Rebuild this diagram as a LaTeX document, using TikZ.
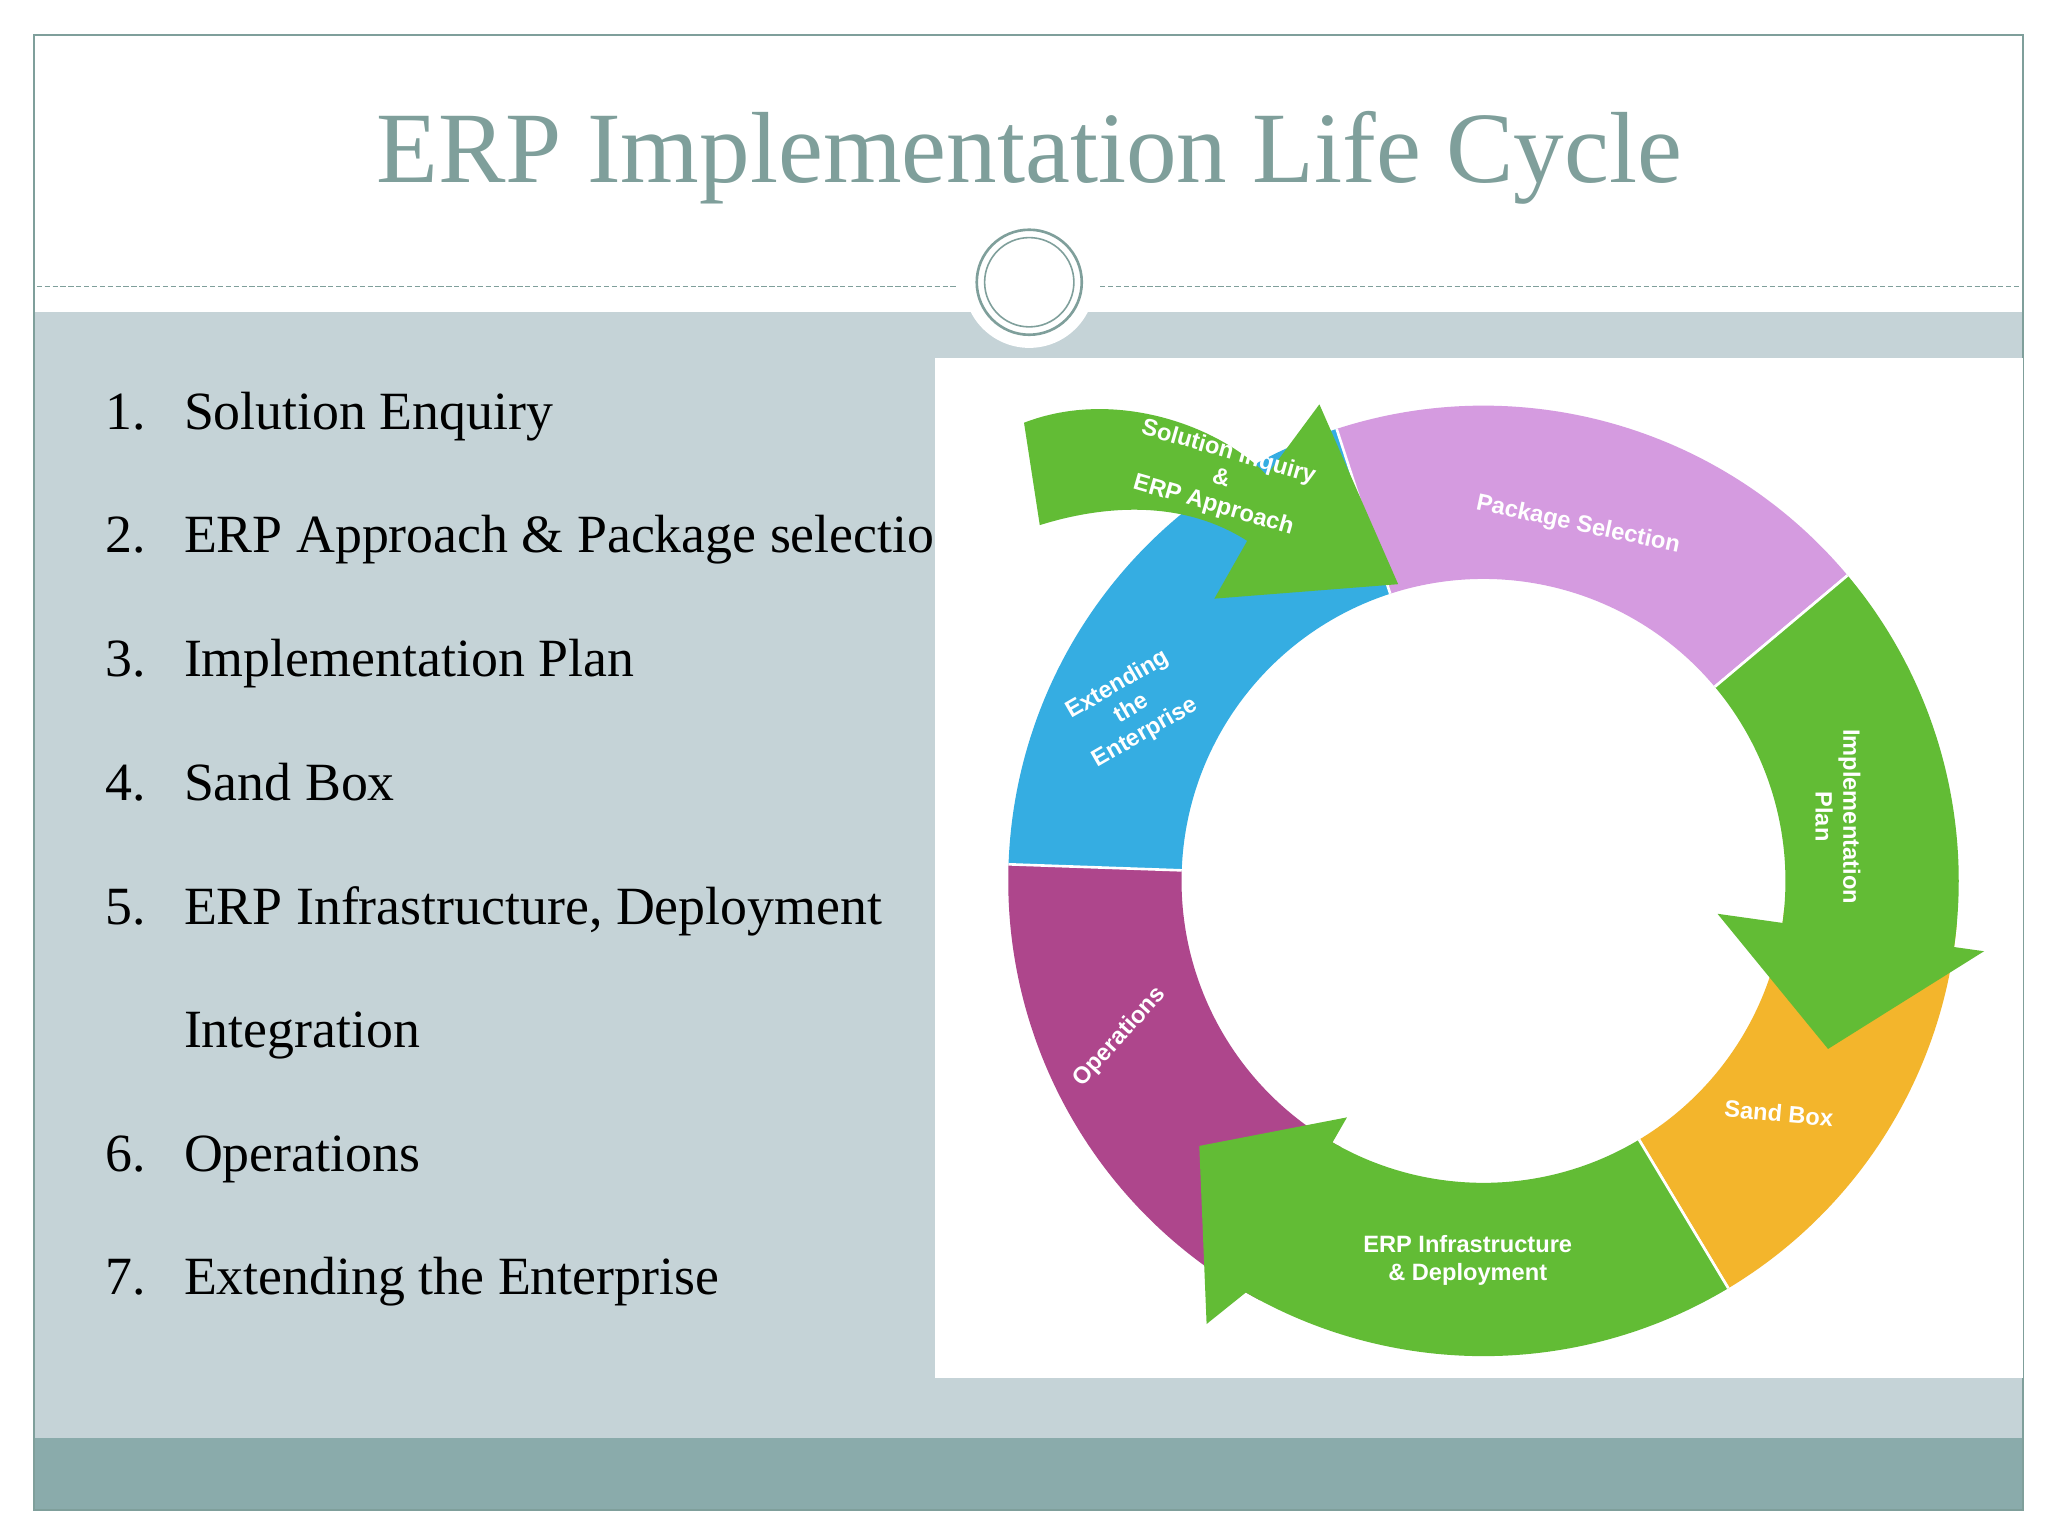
\documentclass[tikz,border=0pt]{standalone}
\usepackage{fontspec}
\setmainfont{Liberation Serif}
\newfontfamily\lblfont{Liberation Sans}
\begin{document}
\begin{tikzpicture}[x=1pt,y=1pt]
\definecolor{teal1}{HTML}{7F9F9B}
\definecolor{bgblue}{HTML}{C5D3D7}
\definecolor{barc}{HTML}{8AABAB}
\definecolor{cpur}{HTML}{D59BE0}
\definecolor{cgrn}{HTML}{62BC35}
\definecolor{cora}{HTML}{F3B52C}
\definecolor{cmag}{HTML}{AE468C}
\definecolor{cblu}{HTML}{35ADE2}
\tikzset{item/.style={anchor=base west,font=\fontsize{41}{46}\selectfont,text=black,inner sep=0pt},
 lbl/.style={text=white,font=\lblfont\bfseries\fontsize{18}{21}\selectfont,align=center,inner sep=0pt}}
\useasboundingbox (0,0) rectangle (1560,1170);
\fill[white] (0,0) rectangle (1560,1170);
\fill[bgblue] (26,75) rectangle (1541,932);
\fill[barc] (26,20) rectangle (1541,75);
\draw[teal1,line width=1.5pt] (26,20) rectangle (1541,1143);
\node[text=teal1,font=\fontsize{77}{80}\selectfont] (title) at (784,1050) {ERP Implementation Life Cycle};
\draw[teal1,dash pattern=on 4pt off 2pt] (28,952) -- (728,952);
\draw[teal1,dash pattern=on 4pt off 2pt] (838,952) -- (1539,952);
\fill[white] (784,955) circle (50);
\draw[teal1,line width=2pt] (784,955) circle (40);
\draw[teal1,line width=1.2pt] (784,955) circle (34);
% list
\foreach \n/\t/\y in {1/Solution Enquiry/857, 2/ERP Approach \& Package selection/763, 3/Implementation Plan/669, 4/Sand Box/574, 5/{ERP Infrastructure, Deployment}/480, 6/Operations/292, 7/Extending the Enterprise/198}{
  \node[item] (num\n) at (80,\y-14) {\n.};
  \node[item] (txt\n) at (140,\y-14) {\t};
}
\node[item] (n5b) at (140,372) {Integration};
% white panel
\fill[white] (712,120) rectangle (1541,897);
\begin{scope}[shift={(1130,499)}]
\def\R{362}\def\r{230}
\fill[cpur] (108:\R) arc (108:40:\R) -- (40:\r) arc (40:108:\r) -- cycle;
\fill[cora] (-5:\R) arc (-5:-59:\R) -- (-59:\r) arc (-59:-5:\r) -- cycle;
\fill[cmag] (-118:\R) arc (-118:-182:\R) -- (-182:\r) arc (-182:-118:\r) -- cycle;
\fill[cblu] (178:\R) arc (178:108:\R) -- (108:\r) arc (108:178:\r) -- cycle;
\draw[white,line width=2pt] (178:\r) -- (178:\R) (108:\r) -- (108:\R) (40:\r) -- (40:\R) (-59:\r) -- (-59:\R) (-118:\r) -- (-118:\R);
\fill[cgrn] (40:\R) arc (40:-8:\R) -- (-8:385) -- (-26:292) -- (-8:180) -- (-8:\r) arc (-8:40:\r) -- cycle;
\fill[cgrn] (-59:\R) arc (-59:-120:\R) -- (-122:398) -- (-137:296) -- (-120:208) -- (-120:\r) arc (-120:-59:\r) -- cycle;
\draw[white,line width=2pt] (40:\r) -- (40:\R) (-59:\r) -- (-59:\R);
\end{scope}
\fill[cgrn] (780,848) .. controls (850,875) and (930,845) .. (965,808) -- (1005,862) -- (1065,725) -- (925,714) -- (950,758) .. controls (900,790) and (840,785) .. (792,770) -- cycle;
% labels
\node[lbl,rotate=-12] (lpk) at (1202,770) {Package Selection};
\node[lbl,rotate=-90] (lim) at (1400,548) {Implementation\\Plan};
\node[lbl,rotate=-5] (lsb) at (1355,322) {Sand Box};
\node[lbl] (ler) at (1118,210) {ERP Infrastructure\\\& Deployment};
\node[lbl,rotate=48] (lop) at (853,380) {Operations};
\node[lbl,rotate=30] (lex) at (862,630) {Extending\\the\\Enterprise};
\node[lbl,rotate=-16] (lso) at (930,805) {Solution Inquiry\\\&\\ERP Approach};
\end{tikzpicture}
\end{document}
